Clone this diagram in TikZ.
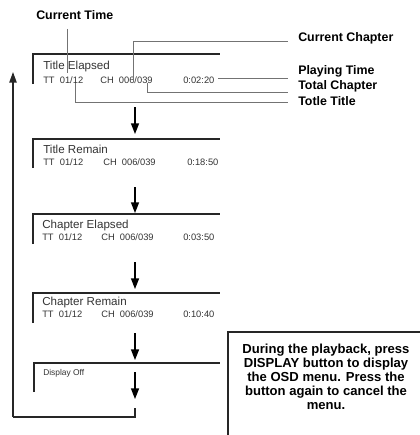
\documentclass[tikz,border=0pt]{standalone}
\usepackage{fontspec}
\setmainfont{Liberation Sans}
\usetikzlibrary{arrows.meta}
\begin{document}
\begin{tikzpicture}[x=0.75pt,y=-0.75pt,
 lbl/.style={font=\bfseries\fontsize{9.3}{10}\selectfont, anchor=west, inner sep=0},
 head/.style={font=\fontsize{8.7}{10}\selectfont, text=black!80, anchor=west, inner sep=0},
 row/.style={font=\fontsize{7}{8}\selectfont, text=black!80, anchor=west, inner sep=0},
 small/.style={font=\fontsize{6.3}{7}\selectfont, text=black!80, anchor=west, inner sep=0},
 frame/.style={draw=black!85, line width=1.2pt},
 callout/.style={draw=black!55, line width=0.5pt},
 flow/.style={draw=black, line width=1.1pt, -{Triangle[length=8pt,width=6pt]}},
 loop/.style={draw=black!85, line width=1.1pt},
 note/.style={draw=black!85, line width=0.9pt},
 notetext/.style={font=\bfseries\fontsize{9.8}{10.6}\selectfont, align=center, inner sep=0}
]
\useasboundingbox (0,0) rectangle (420,435);

% labels
\node[lbl] (lct) at (36,15) {Current Time};
\node[lbl] (lcc) at (298,38) {Current Chapter};
\node[lbl] (lpt) at (298,71) {Playing Time};
\node[lbl] (ltc) at (298,86) {Total Chapter};
\node[lbl] (ltt) at (298,101) {Totle Title};

% box 1
\draw[frame] (33,84) -- (33,54) -- (220,54);
\node[head] (h1) at (43,67) {Title Elapsed};
\node[row] (tt1) at (43,80) {TT\ \ 01/12};
\node[row] (ch1) at (100,80) {CH\ \ 006/039};
\node[row] (tm1) at (183,80) {0:02:20};

% callouts
\coordinate (ctE) at (67,73);
\coordinate (ctS) at (67,29);
\draw[callout] (ctS) -- (ctE);
\coordinate (ccE) at (133,82);
\coordinate (ccL) at (288,41);
\draw[callout] (ccE) |- (ccL);
\coordinate (ptS) at (218,78);
\coordinate (ptL) at (288,78);
\draw[callout] (ptS) -- (ptL);
\coordinate (tcS) at (147,83);
\coordinate (tcL) at (288,92);
\draw[callout] (tcS) |- (tcL);
\coordinate (ttS) at (75,83);
\coordinate (ttL) at (288,102);
\draw[callout] (ttS) |- (ttL);

% box 2
\draw[frame] (33,168) -- (33,139) -- (220,139);
\node[head] (h2) at (43,149) {Title Remain};
\node[row] (tt2) at (43,162) {TT\ \ 01/12};
\node[row] (ch2) at (103,162) {CH\ \ 006/039};
\node[row] (tm2) at (187,162) {0:18:50};

% box 3
\draw[frame] (33,244) -- (33,214) -- (220,214);
\node[head] (h3) at (42,225) {Chapter Elapsed};
\node[row] (tt3) at (42,237) {TT\ \ 01/12};
\node[row] (ch3) at (101,237) {CH\ \ 006/039};
\node[row] (tm3) at (183,237) {0:03:50};

% box 4
\draw[frame] (33,323) -- (33,293) -- (220,293);
\node[head] (h4) at (42,302) {Chapter Remain};
\node[row] (tt4) at (42,314) {TT\ \ 01/12};
\node[row] (ch4) at (101,314) {CH\ \ 006/039};
\node[row] (tm4) at (183,314) {0:10:40};

% box 5
\draw[frame] (34,392) -- (34,363) -- (220,363);
\node[small] (h5) at (43,373) {Display Off};

% flow arrows
\coordinate (a1s) at (135,107); \coordinate (a1e) at (135,134);
\coordinate (a2s) at (135,187); \coordinate (a2e) at (135,213);
\coordinate (a3s) at (135,262); \coordinate (a3e) at (135,289);
\coordinate (a4s) at (135,333); \coordinate (a4e) at (135,360);
\coordinate (a5s) at (135,372); \coordinate (a5e) at (135,399);
\draw[flow] (a1s) -- (a1e);
\draw[flow] (a2s) -- (a2e);
\draw[flow] (a3s) -- (a3e);
\draw[flow] (a4s) -- (a4e);
\draw[flow] (a5s) -- (a5e);

% loop back
\coordinate (lpA) at (135,408);
\coordinate (lpB) at (13,417);
\coordinate (lpC) at (13,72);
\draw[loop] (lpA) |- (lpB);
\draw[loop, -{Triangle[length=8pt,width=5.5pt]}] (lpB) -- (lpC);

% note
\draw[note] (228,440) -- (228,332) -- (425,332);
\node[notetext] (nt) at (326,377) {During the playback, press\\\textbf{DISPLAY} button to display\\the OSD menu. Press the\\button again to cancel the\\menu.};
\end{tikzpicture}
\end{document}
